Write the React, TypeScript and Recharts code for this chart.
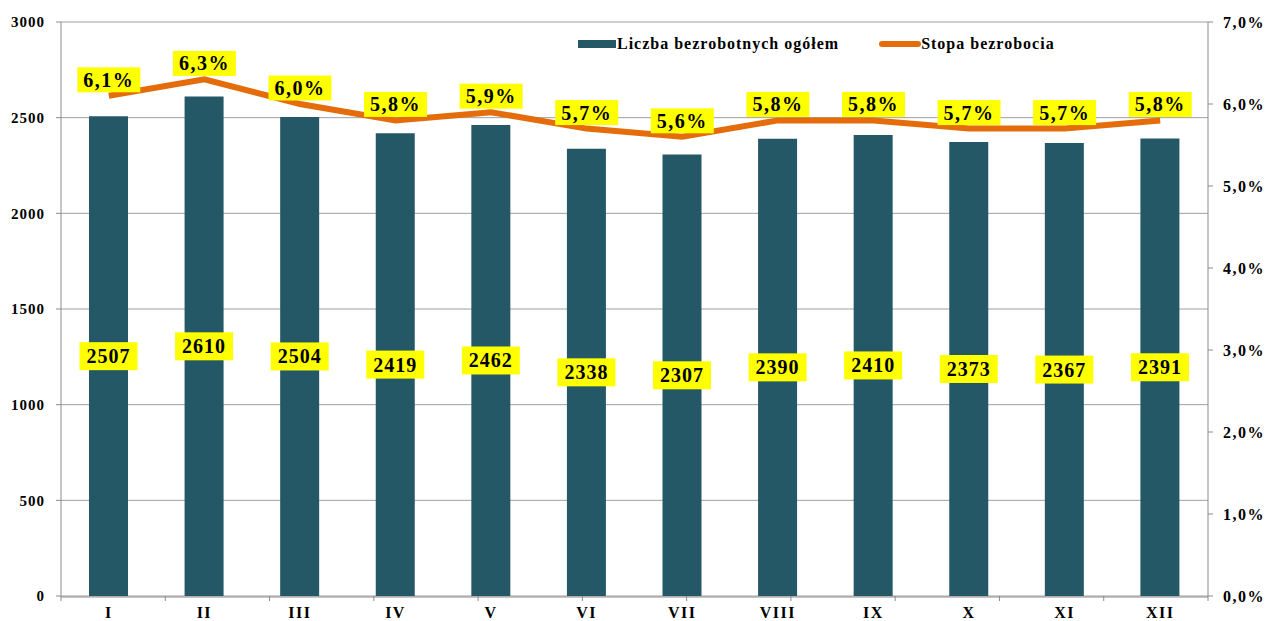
import { ComposedChart, Bar, Line, XAxis, YAxis, CartesianGrid, LabelList } from 'recharts';

const months = ['I', 'II', 'III', 'IV', 'V', 'VI', 'VII', 'VIII', 'IX', 'X', 'XI', 'XII'];
const unemployed = [2507, 2610, 2504, 2419, 2462, 2338, 2307, 2390, 2410, 2373, 2367, 2391];
const rate = [6.1, 6.3, 6.0, 5.8, 5.9, 5.7, 5.6, 5.8, 5.8, 5.7, 5.7, 5.8];
const leftTicks = [0, 500, 1000, 1500, 2000, 2500, 3000];
const rightTicks = [0, 1, 2, 3, 4, 5, 6, 7];
// category boundaries for the small x-axis tick marks
const boundaries = months.map((_, i) => i).concat(months.length);

const data = months.map((m, i) => ({ month: m, count: unemployed[i], rate: rate[i] }));

const FONT = '"Liberation Serif", "Times New Roman", serif';
const BAR = '#245866';
const LINE = '#E46C0A';
const AXIS = '#8c8c8c';

const pct = (v: number) => `${v.toFixed(1).replace('.', ',')}%`;

function BarLabel(props: any) {
  const { x, y, width, height, value } = props;
  const cx = x + width / 2;
  const cy = y + height / 2;
  const w = 58;
  const h = 28;
  return (
    <g>
      <rect x={cx - w / 2} y={cy - h / 2} width={w} height={h} fill="#FFFF00" />
      <text x={cx} y={cy + 7} textAnchor="middle" fontFamily={FONT} fontWeight="bold" fontSize={20} letterSpacing={1} fill="#000">
        {value}
      </text>
    </g>
  );
}

function RateLabel(props: any) {
  const { x, y, value } = props;
  const w = 63;
  const h = 25;
  const cy = y - 16;
  return (
    <g>
      <rect x={x - w / 2} y={cy - h / 2} width={w} height={h} fill="#FFFF00" />
      <text x={x} y={cy + 7} textAnchor="middle" fontFamily={FONT} fontWeight="bold" fontSize={20} letterSpacing={1.5} fill="#000">
        {pct(value)}
      </text>
    </g>
  );
}

function LegendBox() {
  return (
    <div
      style={{
        position: 'absolute',
        left: 578,
        top: 35,
        display: 'flex',
        alignItems: 'center',
        fontFamily: FONT,
        fontWeight: 'bold',
        fontSize: 16,
        letterSpacing: 1,
        color: '#000',
        whiteSpace: 'nowrap',
      }}
    >
      <span style={{ display: 'inline-block', width: 38, height: 8, background: BAR, marginRight: 1 }} />
      <span>Liczba bezrobotnych ogółem</span>
      <span style={{ display: 'inline-block', width: 42, height: 6, borderRadius: 3, background: LINE, marginLeft: 40 }} />
      <span>Stopa bezrobocia</span>
    </div>
  );
}

export default function App() {
  return (
    <div style={{ position: 'absolute', left: 0, top: 0, width: 1271, height: 621, background: '#fff' }}>
      <ComposedChart width={1271} height={621} data={data} margin={{ top: 22, right: 0, bottom: 0, left: 0 }} barSize={39}>
        <CartesianGrid xAxisId="month" yAxisId="left" vertical={false} stroke="#9f9f9f" />
        <XAxis
          xAxisId="aEdges"
          type="number"
          domain={[0, months.length]}
          ticks={boundaries}
          interval={0}
          height={1}
          tickFormatter={() => ''}
          tickLine={{ stroke: AXIS }}
          tickSize={5}
          axisLine={false}
          stroke={AXIS}
        />
        <XAxis
          xAxisId="month"
          dataKey="month"
          height={24}
          tickLine={false}
          axisLine={{ stroke: AXIS }}
          tick={{ fontFamily: FONT, fontWeight: 'bold', fontSize: 16, letterSpacing: 1.5, fill: '#000' }}
          tickMargin={4}
        />
        <YAxis
          yAxisId="left"
          width={61}
          domain={[0, 3000]}
          ticks={leftTicks}
          interval={0}
          tickSize={5}
          tickMargin={11}
          stroke={AXIS}
          tick={{ fontFamily: FONT, fontWeight: 'bold', fontSize: 15, letterSpacing: 1, fill: '#000' }}
        />
        <YAxis
          yAxisId="right"
          orientation="right"
          width={63}
          domain={[0, 7]}
          ticks={rightTicks}
          interval={0}
          tickSize={5}
          tickMargin={10}
          stroke={AXIS}
          tickFormatter={pct}
          tick={{ fontFamily: FONT, fontWeight: 'bold', fontSize: 16, letterSpacing: 1.5, fill: '#000' }}
        />
        <Bar xAxisId="month" yAxisId="left" dataKey="count" fill={BAR} isAnimationActive={false}>
          <LabelList dataKey="count" content={<BarLabel />} />
        </Bar>
        <Line
          xAxisId="month"
          yAxisId="right"
          dataKey="rate"
          type="linear"
          stroke={LINE}
          strokeWidth={6}
          dot={false}
          activeDot={false}
          isAnimationActive={false}
        >
          <LabelList dataKey="rate" content={<RateLabel />} />
        </Line>
      </ComposedChart>
      <LegendBox />
    </div>
  );
}
